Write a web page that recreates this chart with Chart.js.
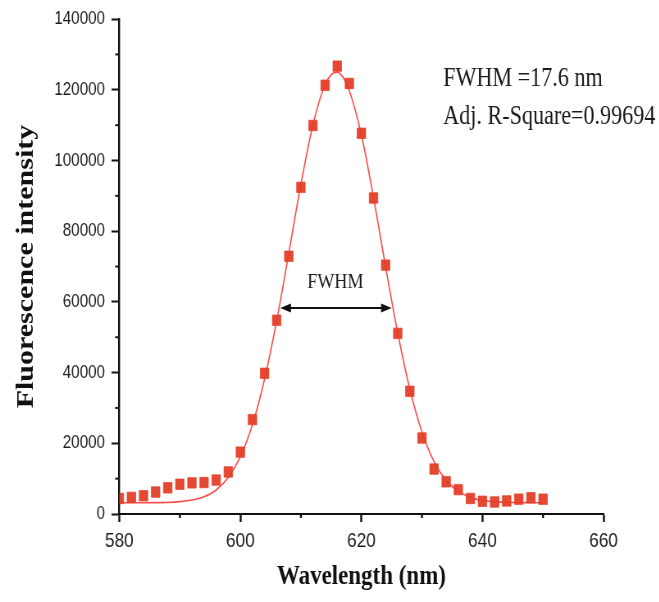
<!DOCTYPE html>
<html>
<head>
<meta charset="utf-8">
<title>Fluorescence spectrum</title>
<script src="https://cdn.jsdelivr.net/npm/chart.js@4.4.1/dist/chart.umd.min.js"></script>
<style>
  html, body { margin: 0; padding: 0; background: #fff; overflow: hidden; }
  /* the figure is drawn wide and squeezed horizontally, like the printed plot */
  #wrap { width: 804px; height: 602px; transform: scaleX(0.82); transform-origin: 0 0; }
</style>
</head>
<body>
<div id="wrap"><canvas id="spectrum" width="804" height="602"></canvas></div>
<script>
// measured spectrum (nm, counts)
const wavelengths = [580, 582, 584, 586, 588, 590, 592, 594, 596, 598, 600, 602, 604, 606, 608, 610, 612, 614,
                     616, 618, 620, 622, 624, 626, 628, 630, 632, 634, 636, 638, 640, 642, 644, 646, 648, 650];
const intensity = [4400, 4700, 5150, 6200, 7400, 8400, 8800, 8900, 9600, 11900, 17500, 26700, 39800, 54800, 72900, 92400, 109900, 121300,
                   126700, 121800, 107700, 89400, 70400, 51100, 34700, 21500, 12700, 9100, 6900, 4400, 3600, 3400, 3700, 4200, 4600, 4200];

// gaussian fit curve
const fitWavelengths = [580, 582, 584, 586, 588, 590, 592, 594, 596, 598, 600, 602, 604, 606, 608, 610, 612, 614, 615,
                        616, 617, 618, 620, 622, 624, 626, 628, 630, 632, 634, 636, 638, 640, 642, 644, 646, 648, 650];
const fitIntensity = [3200, 3200, 3200, 3210, 3250, 3500, 3950, 4900, 6800, 10300, 16200, 25300, 38200, 54700, 73800, 93300, 110200, 121500, 124300,
                      125000, 123400, 119800, 107200, 89500, 69900, 51200, 35300, 23200, 14800, 9500, 6400, 4700, 3800, 3500, 3300, 3250, 3200, 3200];

const xTicks = [580, 600, 620, 640, 660];
const xMinorTicks = [590, 610, 630, 650];
const yTicks = [0, 20000, 40000, 60000, 80000, 100000, 120000, 140000];
const yMinorTicks = [10000, 30000, 50000, 70000, 90000, 110000, 130000];

const fwhmText = 'FWHM =17.6 nm';
const rSquareText = 'Adj. R-Square=0.99694';

const serif = '"Liberation Serif", "Times New Roman", serif';
const sans = '"Liberation Sans", Arial, sans-serif';

// minor ticks, FWHM arrow and the fit results
const annotations = {
  id: 'annotations',
  afterDatasetsDraw(chart) {
    const { ctx, chartArea, scales: { x, y } } = chart;
    ctx.save();
    ctx.strokeStyle = '#111';

    ctx.lineWidth = 2.4;
    xMinorTicks.forEach(v => {
      const px = x.getPixelForValue(v);
      ctx.beginPath();
      ctx.moveTo(px, chartArea.bottom);
      ctx.lineTo(px, chartArea.bottom + 4);
      ctx.stroke();
    });
    ctx.lineWidth = 2;
    yMinorTicks.forEach(v => {
      const py = y.getPixelForValue(v);
      ctx.beginPath();
      ctx.moveTo(chartArea.left - 5, py);
      ctx.lineTo(chartArea.left, py);
      ctx.stroke();
    });

    // double arrow across the half maximum
    const ay = y.getPixelForValue(58300);
    const x1 = x.getPixelForValue(606.6);
    const x2 = x.getPixelForValue(625.0);
    ctx.lineWidth = 2;
    ctx.beginPath();
    ctx.moveTo(x1 + 6, ay);
    ctx.lineTo(x2 - 6, ay);
    ctx.stroke();
    ctx.fillStyle = '#111';
    ctx.beginPath();
    ctx.moveTo(x1, ay);
    ctx.lineTo(x1 + 13, ay - 4.5);
    ctx.lineTo(x1 + 13, ay + 4.5);
    ctx.closePath();
    ctx.fill();
    ctx.beginPath();
    ctx.moveTo(x2, ay);
    ctx.lineTo(x2 - 13, ay - 4.5);
    ctx.lineTo(x2 - 13, ay + 4.5);
    ctx.closePath();
    ctx.fill();

    ctx.fillStyle = '#1a1a1a';
    ctx.textBaseline = 'alphabetic';
    ctx.font = '22px ' + serif;
    ctx.textAlign = 'center';
    ctx.fillText('FWHM', x.getPixelForValue(615.7), y.getPixelForValue(63800));

    ctx.font = '27px ' + serif;
    ctx.textAlign = 'left';
    const tx = x.getPixelForValue(633.5);
    ctx.fillText(fwhmText, tx, y.getPixelForValue(121100));
    ctx.fillText(rSquareText, tx, y.getPixelForValue(110300));
    ctx.restore();
  }
};

const whiteBackground = {
  id: 'whiteBackground',
  beforeDraw(chart) {
    const { ctx, width, height } = chart;
    ctx.save();
    ctx.fillStyle = '#fff';
    ctx.fillRect(0, 0, width, height);
    ctx.restore();
  }
};

new Chart(document.getElementById('spectrum'), {
  type: 'scatter',
  data: {
    datasets: [
      {
        label: 'Data',
        data: wavelengths.map((w, i) => ({ x: w, y: intensity[i] })),
        pointStyle: 'rect',
        pointRadius: 7.4,
        pointBackgroundColor: 'rgba(228, 62, 40, 0.95)',
        pointBorderColor: 'rgba(228, 62, 40, 0.7)',
        pointBorderWidth: 1,
        showLine: false
      },
      {
        label: 'Fit',
        data: fitWavelengths.map((w, i) => ({ x: w, y: fitIntensity[i] })),
        showLine: true,
        pointRadius: 0,
        borderColor: '#ff4a4a',
        borderWidth: 1.6,
        cubicInterpolationMode: 'monotone'
      }
    ]
  },
  options: {
    responsive: false,
    animation: false,
    devicePixelRatio: 1,
    layout: { padding: { top: 16, left: 0, right: 68, bottom: 0 } },
    plugins: {
      legend: { display: false },
      tooltip: { enabled: false }
    },
    scales: {
      x: {
        type: 'linear',
        min: 580,
        max: 660,
        afterFit(axis) { axis.height = 88; },
        afterBuildTicks(axis) { axis.ticks = xTicks.map(v => ({ value: v })); },
        ticks: {
          color: '#1e1e1e',
          font: { family: sans, size: 21 },
          padding: 7,
          maxRotation: 0,
          callback: v => String(v)
        },
        grid: {
          drawOnChartArea: false,
          drawTicks: true,
          tickLength: 8,
          tickWidth: 2.4,
          tickColor: '#111'
        },
        border: { color: '#111', width: 2 },
        title: {
          display: true,
          text: 'Wavelength (nm)',
          color: '#111',
          font: { family: serif, size: 28, weight: 'bold' },
          padding: { top: 8, bottom: 8 }
        }
      },
      y: {
        min: 0,
        max: 140000,
        afterFit(axis) { axis.width = 145.5; },
        afterBuildTicks(axis) { axis.ticks = yTicks.map(v => ({ value: v })); },
        ticks: {
          color: '#1e1e1e',
          font: { family: sans, size: 18.5 },
          padding: 8,
          callback: v => String(v)
        },
        grid: {
          drawOnChartArea: false,
          drawTicks: true,
          tickLength: 9.5,
          tickWidth: 2,
          tickColor: '#111'
        },
        border: { color: '#111', width: 2.4 },
        title: {
          display: true,
          text: 'Fluorescence intensity',
          color: '#111',
          font: { family: serif, size: 30, weight: 'bold' },
          padding: { top: 14, bottom: 14 }
        }
      }
    }
  },
  plugins: [whiteBackground, annotations]
});
</script>
</body>
</html>
